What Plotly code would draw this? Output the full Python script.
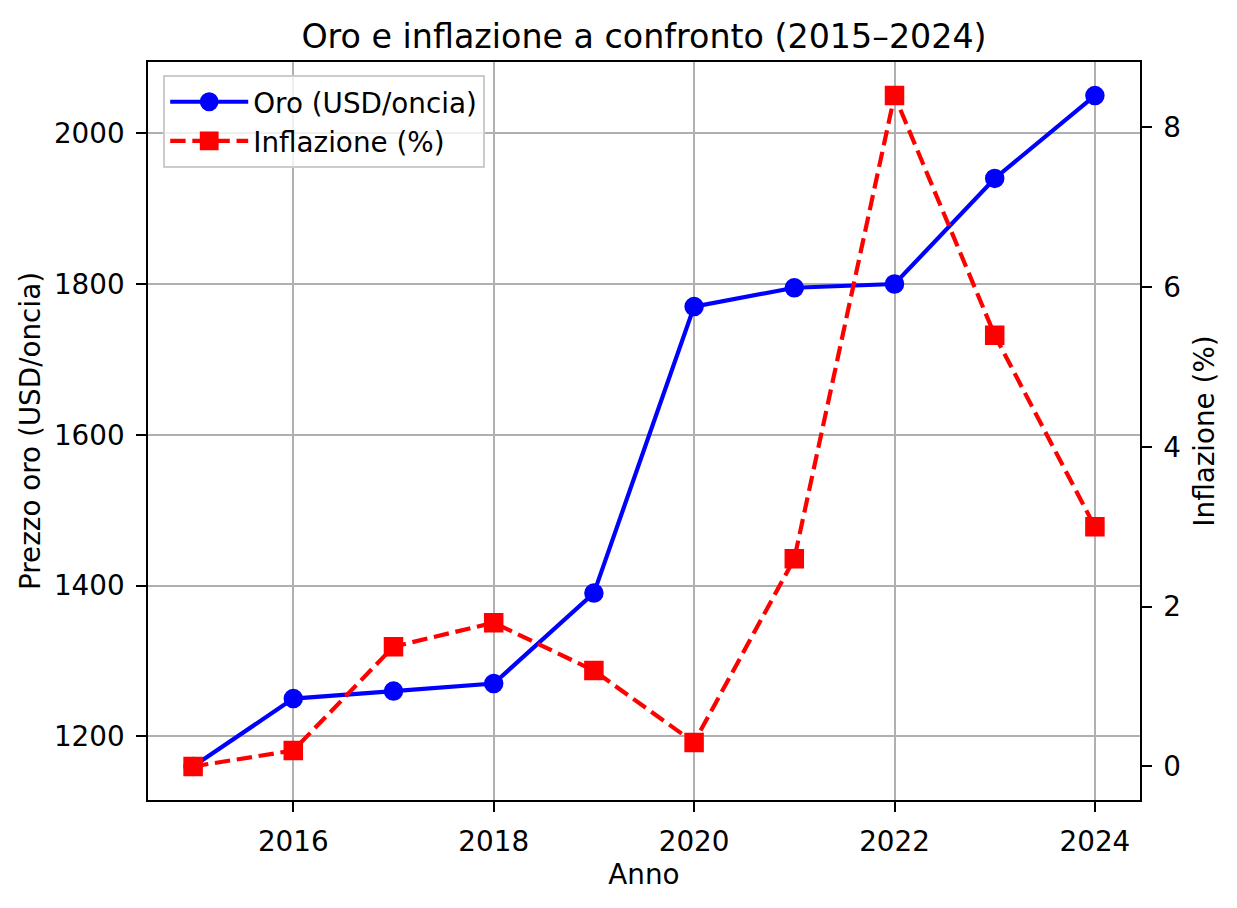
import plotly.graph_objects as go

anni = [2015, 2016, 2017, 2018, 2019, 2020, 2021, 2022, 2023, 2024]
oro = [1160, 1250, 1260, 1270, 1390, 1770, 1795, 1800, 1940, 2050]
inflazione = [0.0, 0.2, 1.5, 1.8, 1.2, 0.3, 2.6, 8.4, 5.4, 3.0]
x_ticks = [2016, 2018, 2020, 2022, 2024]
y1_ticks = [1200, 1400, 1600, 1800, 2000]
y2_ticks = [0, 2, 4, 6, 8]

FONT = "DejaVu Sans"
FS = 27.8

fig = go.Figure()
fig.add_trace(go.Scatter(
    x=anni, y=oro, name="Oro (USD/oncia)", mode="lines+markers",
    line=dict(color="#0000ff", width=4.2),
    marker=dict(symbol="circle", size=16.7, color="#0000ff",
                line=dict(color="#0000ff", width=2.8)),
    yaxis="y"))
fig.add_trace(go.Scatter(
    x=anni, y=inflazione, name="Inflazione (%)", mode="lines+markers",
    line=dict(color="#ff0000", width=4.2, dash="15.4px,6.7px"),
    marker=dict(symbol="square", size=16.7, color="#ff0000",
                line=dict(color="#ff0000", width=2.8)),
    yaxis="y2"))

axis_common = dict(
    ticks="outside", ticklen=9.7, tickwidth=2.2, tickcolor="black",
    showline=True, linecolor="black", linewidth=2.2,
    tickfont=dict(family=FONT, size=FS, color="black"),
    zeroline=False, automargin=False,
)

fig.update_layout(
    width=1237, height=908,
    margin=dict(l=148, r=97, t=62, b=108, pad=0),
    paper_bgcolor="white", plot_bgcolor="white",
    font=dict(family=FONT, size=FS, color="black"),
    title=dict(text="Oro e inflazione a confronto (2015–2024)",
               x=(148 + 1140) / 2 / 1237, xanchor="center",
               y=1 - 36 / 908, yanchor="middle", yref="container",
               font=dict(family=FONT, size=33.3, color="black")),
    xaxis=dict(**axis_common, range=[2014.55, 2024.45], tickvals=x_ticks,
               mirror=True, showgrid=True, gridcolor="#b0b0b0", gridwidth=2.2,
               title=dict(text="Anno", standoff=6,
                          font=dict(family=FONT, size=FS, color="black")),
               ticklabelstandoff=6),
    yaxis=dict(**axis_common, range=[1115.5, 2094.5], tickvals=y1_ticks,
               mirror=True, showgrid=True, gridcolor="#b0b0b0", gridwidth=2.2,
               title=dict(text="Prezzo oro (USD/oncia)", standoff=5,
                          font=dict(family=FONT, size=FS, color="black")),
               ticklabelstandoff=6),
    yaxis2=dict(**axis_common, range=[-0.42, 8.82], tickvals=y2_ticks,
                overlaying="y", side="right", showgrid=False,
                title=dict(text="Inflazione (%)", standoff=14,
                           font=dict(family=FONT, size=FS, color="black")),
                ticklabelstandoff=6),
    legend=dict(x=15 / 992, y=1 - 13 / 738, xanchor="left", yanchor="top",
                bgcolor="rgba(255,255,255,0.8)", bordercolor="#cccccc",
                borderwidth=2.2, font=dict(family=FONT, size=FS, color="black"),
                itemwidth=78, tracegroupgap=0),
    showlegend=True,
)

fig.write_html("out.html", config={"displayModeBar": False},
               post_script="document.body.style.margin='0px';")
